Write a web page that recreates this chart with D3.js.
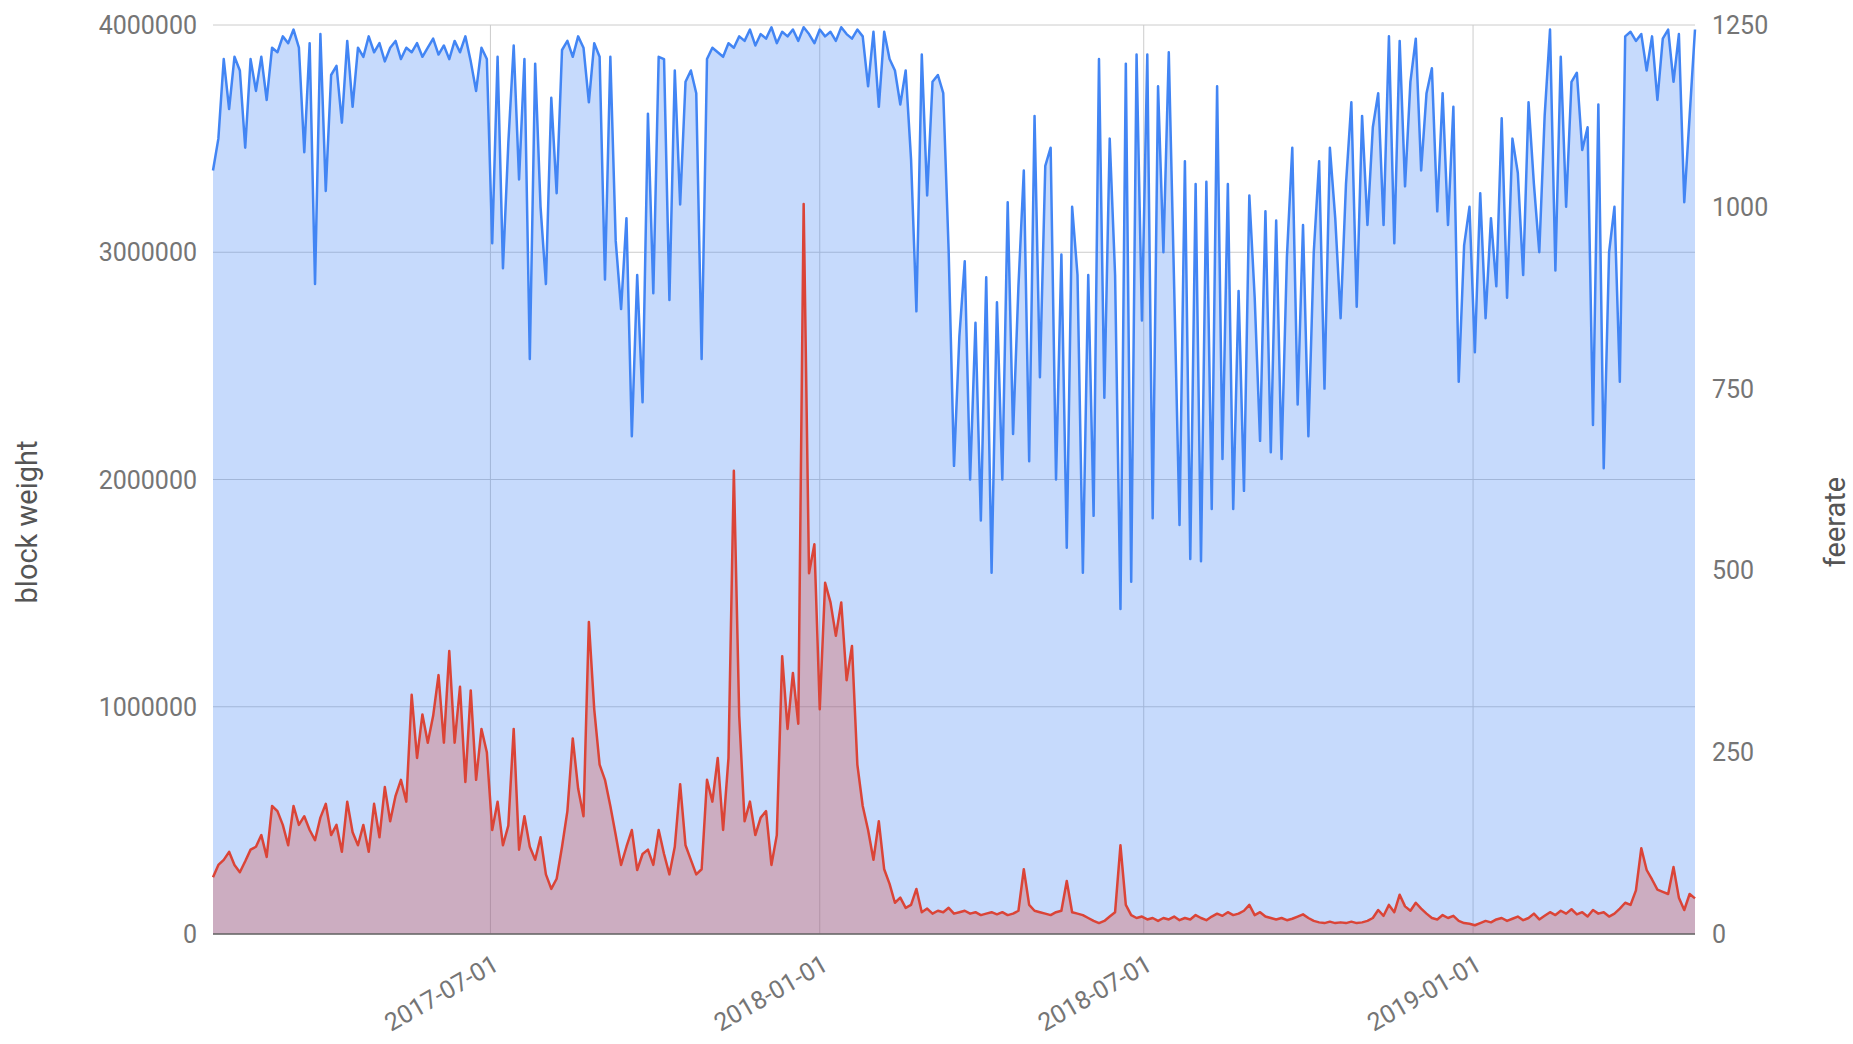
<!DOCTYPE html>
<html>
<head>
<meta charset="utf-8">
<script src="https://cdn.jsdelivr.net/npm/d3@7"></script>
<style>
  body { margin: 0; background: #fff; }
  text { font-family: Roboto, "Noto Sans", sans-serif; }
</style>
</head>
<body>
<div id="chart"></div>
<script>
// First sample date and spacing of the samples (days)
var startDate = "2017-01-27";
var stepDays = 3;

// block weight, one value every 3 days
var blockWeight = [
  3360000, 3500000, 3850000, 3630000, 3860000, 3800000, 3460000, 3850000, 3710000, 3860000,
  3670000, 3900000, 3880000, 3950000, 3920000, 3980000, 3900000, 3440000, 3920000, 2860000,
  3960000, 3270000, 3780000, 3820000, 3570000, 3930000, 3640000, 3900000, 3860000, 3950000,
  3880000, 3920000, 3840000, 3900000, 3930000, 3850000, 3900000, 3880000, 3920000, 3860000,
  3900000, 3940000, 3870000, 3910000, 3850000, 3930000, 3880000, 3950000, 3840000, 3710000,
  3900000, 3850000, 3040000, 3860000, 2930000, 3480000, 3910000, 3320000, 3850000, 2530000,
  3830000, 3200000, 2860000, 3680000, 3260000, 3890000, 3930000, 3860000, 3950000, 3900000,
  3660000, 3920000, 3860000, 2880000, 3860000, 3050000, 2750000, 3150000, 2190000, 2900000,
  2340000, 3610000, 2820000, 3860000, 3850000, 2790000, 3800000, 3210000, 3750000, 3800000,
  3700000, 2530000, 3850000, 3900000, 3880000, 3860000, 3920000, 3900000, 3950000, 3930000,
  3980000, 3910000, 3960000, 3940000, 3990000, 3920000, 3970000, 3950000, 3980000, 3930000,
  3990000, 3960000, 3920000, 3980000, 3950000, 3970000, 3930000, 3990000, 3960000, 3940000,
  3980000, 3950000, 3730000, 3970000, 3640000, 3970000, 3850000, 3800000, 3650000, 3800000,
  3410000, 2740000, 3870000, 3250000, 3750000, 3780000, 3700000, 3010000, 2060000, 2630000,
  2960000, 2000000, 2690000, 1820000, 2890000, 1590000, 2780000, 2000000, 3220000, 2200000,
  2850000, 3360000, 2080000, 3600000, 2450000, 3380000, 3460000, 2000000, 2990000, 1700000,
  3200000, 2900000, 1590000, 2900000, 1840000, 3850000, 2360000, 3500000, 2900000, 1430000,
  3830000, 1550000, 3870000, 2700000, 3870000, 1830000, 3730000, 3000000, 3880000, 2850000,
  1800000, 3400000, 1650000, 3300000, 1640000, 3310000, 1870000, 3730000, 2090000, 3300000,
  1870000, 2830000, 1950000, 3250000, 2800000, 2170000, 3180000, 2120000, 3140000, 2090000,
  2980000, 3460000, 2330000, 3120000, 2190000, 3000000, 3400000, 2400000, 3460000, 3150000,
  2710000, 3300000, 3660000, 2760000, 3600000, 3120000, 3550000, 3700000, 3120000, 3950000,
  3040000, 3930000, 3290000, 3750000, 3940000, 3360000, 3700000, 3810000, 3180000, 3700000,
  3120000, 3640000, 2430000, 3030000, 3200000, 2560000, 3260000, 2710000, 3150000, 2850000,
  3590000, 2800000, 3500000, 3350000, 2900000, 3660000, 3300000, 3000000, 3600000, 3980000,
  2920000, 3860000, 3200000, 3750000, 3790000, 3450000, 3550000, 2240000, 3650000, 2050000,
  3000000, 3200000, 2430000, 3950000, 3970000, 3930000, 3960000, 3800000, 3950000, 3670000,
  3940000, 3980000, 3750000, 3960000, 3220000, 3600000, 3980000
];

// feerate, same dates
var feerate = [
  78, 95, 102, 113, 95, 85, 100, 116, 120, 136,
  106, 176, 169, 150, 122, 176, 150, 162, 143, 129,
  160, 179, 136, 150, 113, 182, 140, 122, 150, 113,
  179, 133, 202, 155, 190, 212, 182, 329, 242, 302,
  263, 300, 356, 263, 389, 263, 340, 209, 335, 212,
  282, 250, 143, 182, 122, 149, 282, 116, 162, 120,
  102, 133, 82, 62, 76, 120, 169, 269, 200, 162,
  429, 309, 233, 212, 176, 136, 95, 120, 143, 88,
  110, 116, 95, 143, 110, 82, 120, 206, 122, 102,
  82, 89, 212, 182, 242, 143, 242, 637, 300, 155,
  182, 136, 160, 169, 95, 136, 382, 282, 359, 289,
  1004, 496, 536, 309, 483, 456, 410, 456, 349, 396,
  233, 176, 143, 102, 155, 89, 69, 43, 50, 36,
  40, 62, 30, 35, 28, 32, 30, 36, 28, 30,
  32, 28, 30, 26, 28, 30, 27, 30, 26, 28,
  32, 89, 40, 32, 30, 28, 26, 30, 32, 73,
  30, 28, 26, 22, 18, 15, 18, 24, 30, 122,
  40, 26, 22, 24, 20, 22, 18, 22, 20, 24,
  19, 22, 20, 26, 22, 19, 24, 28, 25, 30,
  26, 28, 32, 40, 26, 30, 24, 22, 20, 22,
  19, 21, 24, 27, 22, 18, 16, 15, 17, 15,
  16, 15, 17, 15, 16, 18, 22, 33, 25, 40,
  30, 54, 38, 32, 43, 35, 28, 22, 20, 26,
  22, 25, 18, 15, 14, 12, 15, 18, 16, 20,
  22, 18, 21, 24, 19, 22, 28, 20, 25, 30,
  26, 32, 28, 34, 27, 30, 24, 33, 28, 30,
  24, 28, 35, 43, 40, 60, 118, 88, 75, 61,
  58, 55, 92, 50, 33, 55, 49
];

var xTickLabels = ["2017-07-01", "2018-01-01", "2018-07-01", "2019-01-01"];
var weightTicks = [0, 1000000, 2000000, 3000000, 4000000];
var feeTicks = [0, 250, 500, 750, 1000, 1250];

var W = 1853, H = 1044;
var margin = { top: 25, right: 158, bottom: 110, left: 213 },
  width = W - margin.left - margin.right,
  height = H - margin.top - margin.bottom;

var parse = d3.utcParse("%Y-%m-%d");
var t0 = parse(startDate);
var data = blockWeight.map(function(w, i) {
  return { date: d3.utcDay.offset(t0, i * stepDays), weight: w, fee: feerate[i] };
});

var svg = d3.select("#chart")
  .append("svg")
  .attr("width", W)
  .attr("height", H);

var g = svg.append("g")
  .attr("transform", "translate(" + margin.left + "," + margin.top + ")");

var x = d3.scaleUtc()
  .domain(d3.extent(data, function(d) { return d.date; }))
  .range([0, width]);

var yW = d3.scaleLinear().domain([0, 4000000]).range([height, 0]);
var yF = d3.scaleLinear().domain([0, 1250]).range([height, 0]);

// Gridlines
g.append("g")
  .selectAll("line")
  .data(weightTicks)
  .enter().append("line")
  .attr("x1", 0).attr("x2", width)
  .attr("y1", function(d) { return yW(d); })
  .attr("y2", function(d) { return yW(d); })
  .attr("stroke", "#cccccc")
  .attr("stroke-width", 1);

g.append("g")
  .selectAll("line")
  .data(xTickLabels)
  .enter().append("line")
  .attr("x1", function(d) { return x(parse(d)); })
  .attr("x2", function(d) { return x(parse(d)); })
  .attr("y1", 0).attr("y2", height)
  .attr("stroke", "#cccccc")
  .attr("stroke-width", 1);

// Areas
var areaW = d3.area()
  .x(function(d) { return x(d.date); })
  .y0(height)
  .y1(function(d) { return yW(d.weight); });
var areaF = d3.area()
  .x(function(d) { return x(d.date); })
  .y0(height)
  .y1(function(d) { return yF(d.fee); });

g.append("path").datum(data)
  .attr("d", areaW)
  .attr("fill", "#4285f4")
  .attr("fill-opacity", 0.3);
g.append("path").datum(data)
  .attr("d", areaF)
  .attr("fill", "#db4437")
  .attr("fill-opacity", 0.3);

// Lines
g.append("path").datum(data)
  .attr("d", d3.line()
    .x(function(d) { return x(d.date); })
    .y(function(d) { return yW(d.weight); }))
  .attr("fill", "none")
  .attr("stroke", "#4285f4")
  .attr("stroke-width", 2.5)
  .attr("stroke-linejoin", "round");
g.append("path").datum(data)
  .attr("d", d3.line()
    .x(function(d) { return x(d.date); })
    .y(function(d) { return yF(d.fee); }))
  .attr("fill", "none")
  .attr("stroke", "#db4437")
  .attr("stroke-width", 2.5)
  .attr("stroke-linejoin", "round");

// Baseline
g.append("line")
  .attr("x1", 0).attr("x2", width)
  .attr("y1", height).attr("y2", height)
  .attr("stroke", "#666")
  .attr("stroke-width", 1.5);

// Left axis labels
g.append("g")
  .selectAll("text")
  .data(weightTicks)
  .enter().append("text")
  .attr("x", -16)
  .attr("y", function(d) { return yW(d); })
  .attr("dy", "0.36em")
  .attr("text-anchor", "end")
  .attr("font-size", 25)
  .attr("fill", "#757575")
  .text(function(d) { return d; });

// Right axis labels
g.append("g")
  .selectAll("text")
  .data(feeTicks)
  .enter().append("text")
  .attr("x", width + 17)
  .attr("y", function(d) { return yF(d); })
  .attr("dy", "0.36em")
  .attr("text-anchor", "start")
  .attr("font-size", 25)
  .attr("fill", "#757575")
  .text(function(d) { return d; });

// Slanted date labels
g.append("g")
  .selectAll("text")
  .data(xTickLabels)
  .enter().append("text")
  .attr("transform", function(d) {
    return "translate(" + (x(parse(d)) + 10) + "," + (height + 35) + ") rotate(-30)";
  })
  .attr("text-anchor", "end")
  .attr("font-size", 25)
  .attr("fill", "#757575")
  .text(function(d) { return d; });

// Axis titles
svg.append("text")
  .attr("transform", "translate(37," + (H / 2) + ") rotate(-90)")
  .attr("text-anchor", "middle")
  .attr("font-size", 29)
  .attr("fill", "#555")
  .text("block weight");

svg.append("text")
  .attr("transform", "translate(1845," + (H / 2) + ") rotate(-90)")
  .attr("text-anchor", "middle")
  .attr("font-size", 29)
  .attr("fill", "#555")
  .text("feerate");
</script>
</body>
</html>
